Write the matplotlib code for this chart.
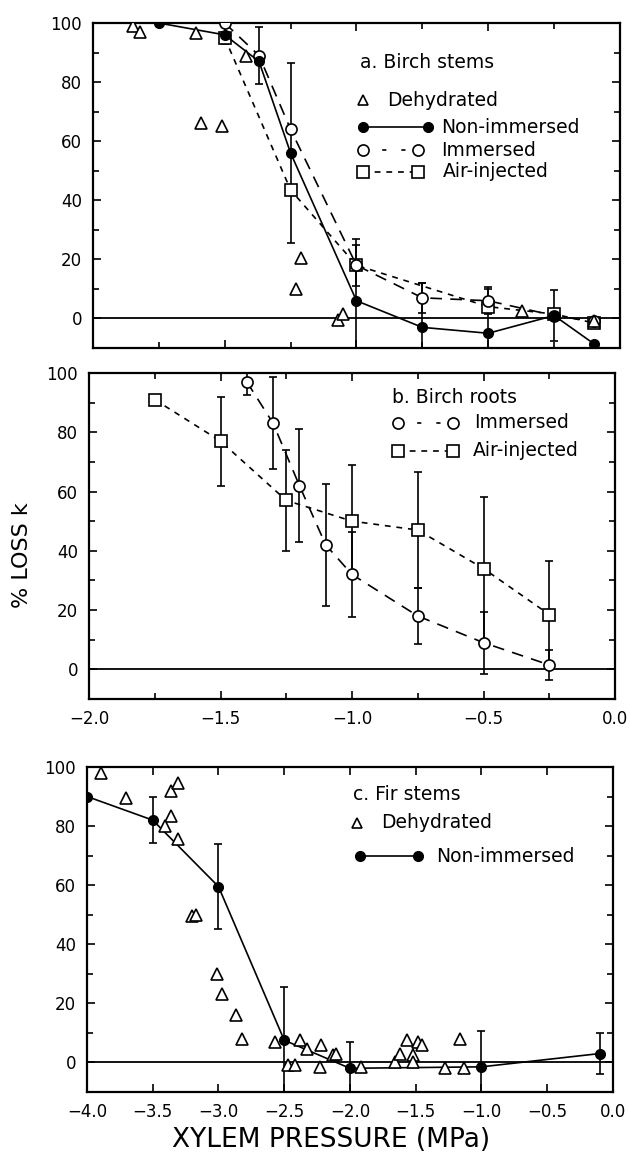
import numpy as np
import matplotlib
matplotlib.use('Agg')
import matplotlib.pyplot as plt

# a. Birch stems
a_dehyd_x = [-1.85, -1.82, -1.61, -1.59, -1.51, -1.42, -1.23, -1.21, -1.07, -1.05, -0.37, -0.10]
a_dehyd_y = [99, 97, 96.5, 66, 65, 89, 10, 20.5, -0.5, 1.5, 2.5, -1]

a_non_x = [-1.75, -1.5, -1.37, -1.25, -1.0, -0.75, -0.5, -0.25, -0.10]
a_non_y = [100, 96, 87, 56, 6, -3, -5, 1, -8.5]
a_non_err = [0, 1, 0, 30.5, 21, 15, 15, 8.5, 0]

a_imm_x = [-1.5, -1.37, -1.25, -1.0, -0.75, -0.5, -0.25, -0.10]
a_imm_y = [100, 89, 64, 18, 7, 6, 1, -1]
a_imm_err = [0, 9.5, 0, 0, 5, 4.5, 0, 0]

a_air_x = [-1.5, -1.25, -1.0, -0.5, -0.25, -0.10]
a_air_y = [95, 43.5, 18, 4, 1.5, -1.5]
a_air_err = [2, 0, 7, 0, 0, 0]

# b. Birch roots
b_imm_x = [-1.4, -1.3, -1.2, -1.1, -1.0, -0.75, -0.5, -0.25]
b_imm_y = [97, 83, 62, 42, 32, 18, 9, 1.5]
b_imm_err = [4.5, 15.5, 19, 20.5, 14.5, 9.5, 10.5, 5]

b_air_x = [-1.75, -1.5, -1.25, -1.0, -0.75, -0.5, -0.25]
b_air_y = [91, 77, 57, 50, 47, 34, 18.5]
b_air_err = [0, 15, 17, 19, 19.5, 24, 18]

# c. Fir stems
c_dehyd_x = [-3.89, -3.70, -3.36, -3.31, -3.36, -3.41, -3.31, -3.20, -3.17, -3.01,
             -2.97, -2.87, -2.82, -2.57, -2.47, -2.42, -2.38, -2.33, -2.22, -2.23,
             -2.13, -2.11, -1.92, -1.66, -1.62, -1.57, -1.52, -1.48, -1.45, -1.52,
             -1.28, -1.16, -1.13]
c_dehyd_y = [98, 89.5, 92, 94.5, 83.5, 80, 75.5, 49.5, 50, 30,
             23, 16, 8, 7, -1, -1, 7.5, 4.5, 6, -1.5,
             2.5, 3, -1.5, 0, 3, 7.5, 2.5, 7, 6, 0,
             -2, 8, -2]

c_non_x = [-4.0, -3.5, -3.0, -2.5, -2.0, -1.0, -0.10]
c_non_y = [90, 82, 59.5, 7.5, -2, -1.5, 3]
c_non_err = [0, 7.7, 14.3, 18, 9, 12, 7]

FS = 12
LFS = 13.5
LONG_DASH = (0, (7, 5))
SHORT_DASH = (0, (3.5, 3.5))

fill_mk = dict(marker='o', ms=7, mfc='black', mec='black')
circ_mk = dict(marker='o', ms=8, mfc='white', mec='black', mew=1.2)
sq_mk = dict(marker='s', ms=9, mfc='white', mec='black', mew=1.2)
tri_mk = dict(marker='^', ms=8, mfc='white', mec='black', mew=1.2, ls='none')


def errline(ax, x, y, err, ls, mk):
    ax.errorbar(x, y, yerr=err, color='black', ls=ls, lw=1.2,
                elinewidth=1.2, capsize=3, capthick=1.2, zorder=3, **mk)


def style_axes(ax, xlim, xticks, xminor, labels):
    ax.set_xlim(*xlim)
    ax.set_ylim(-10, 100)
    ax.set_xticks(xticks)
    if xminor is not None:
        ax.set_xticks(xminor, minor=True)
    ax.set_yticks(np.arange(0, 101, 20))
    ax.set_yticks(np.arange(-10, 101, 10), minor=True)
    ax.tick_params(which='both', direction='in', top=True, right=True,
                   labelsize=FS, width=1.2)
    ax.tick_params(which='major', length=6, pad=8)
    ax.tick_params(which='minor', length=4)
    if labels:
        ax.set_xticklabels([('%.1f' % t).replace('-', '\u2212') for t in xticks])
    else:
        ax.set_xticklabels([])
    for s in ax.spines.values():
        s.set_linewidth(1.6)
    ax.axhline(0, color='black', lw=1.3, zorder=1)


def leg_row(ax, y, x1, x2, text_x, text, mk, ls):
    tr = ax.transAxes
    if x2 is not None:
        ax.plot([x1, x2], [y, y], transform=tr, color='black', lw=1.2,
                ls=ls, clip_on=False)
        ax.plot([x2], [y], transform=tr, color='black', ls='none', **mk)
    ax.plot([x1], [y], transform=tr, color='black', ls='none', **mk)
    ax.text(text_x, y, text, transform=tr, fontsize=LFS, va='center', ha='left')


fig = plt.figure(figsize=(6.3, 11.64), dpi=100)
ax_a = fig.add_axes([0.1476, 0.701, 0.8365, 0.2792])
ax_b = fig.add_axes([0.1413, 0.3995, 0.8349, 0.2801])
ax_c = fig.add_axes([0.1381, 0.0619, 0.8349, 0.2792])

# panel a
ax_a.plot(a_dehyd_x, a_dehyd_y, color='black', zorder=4, **tri_mk)
errline(ax_a, a_air_x, a_air_y, a_air_err, SHORT_DASH, sq_mk)
errline(ax_a, a_imm_x, a_imm_y, a_imm_err, LONG_DASH, circ_mk)
errline(ax_a, a_non_x, a_non_y, a_non_err, '-', fill_mk)
style_axes(ax_a, (-2.0, 0.0), np.arange(-2.0, 0.01, 0.5), np.arange(-1.75, 0, 0.5), False)
ax_a.text(0.507, 0.88, 'a. Birch stems', transform=ax_a.transAxes, fontsize=LFS, va='center')
ax_a.plot([0.512], [0.763], transform=ax_a.transAxes, color='black', **dict(tri_mk, ms=7))
ax_a.text(0.558, 0.763, 'Dehydrated', transform=ax_a.transAxes, fontsize=LFS, va='center')
leg_row(ax_a, 0.68, 0.512, 0.636, 0.66, 'Non-immersed', fill_mk, '-')
leg_row(ax_a, 0.609, 0.512, 0.617, 0.66, 'Immersed', circ_mk, (0, (2.5, 9)))
leg_row(ax_a, 0.542, 0.512, 0.617, 0.664, 'Air-injected', sq_mk, SHORT_DASH)

# panel b
errline(ax_b, b_air_x, b_air_y, b_air_err, SHORT_DASH, sq_mk)
errline(ax_b, b_imm_x, b_imm_y, b_imm_err, LONG_DASH, circ_mk)
style_axes(ax_b, (-2.0, 0.0), np.arange(-2.0, 0.01, 0.5), np.arange(-1.75, 0, 0.5), True)
ax_b.text(0.576, 0.926, 'b. Birch roots', transform=ax_b.transAxes, fontsize=LFS, va='center')
leg_row(ax_b, 0.847, 0.587, 0.692, 0.732, 'Immersed', circ_mk, (0, (2.5, 9)))
leg_row(ax_b, 0.761, 0.587, 0.692, 0.730, 'Air-injected', sq_mk, SHORT_DASH)

# panel c
ax_c.plot(c_dehyd_x, c_dehyd_y, color='black', zorder=4, **tri_mk)
errline(ax_c, c_non_x, c_non_y, c_non_err, '-', fill_mk)
style_axes(ax_c, (-4.0, 0.0), np.arange(-4.0, 0.01, 0.5), None, True)
ax_c.text(0.506, 0.914, 'c. Fir stems', transform=ax_c.transAxes, fontsize=LFS, va='center')
ax_c.plot([0.513], [0.828], transform=ax_c.transAxes, color='black', **dict(tri_mk, ms=7))
ax_c.text(0.559, 0.828, 'Dehydrated', transform=ax_c.transAxes, fontsize=LFS, va='center')
leg_row(ax_c, 0.726, 0.519, 0.629, 0.663, 'Non-immersed', fill_mk, '-')

fig.text(0.035, 0.523, '% LOSS k', rotation=90, fontsize=16, ha='center', va='center')
fig.text(0.525, 0.021, 'XYLEM PRESSURE (MPa)', fontsize=19, ha='center', va='center')

fig.savefig('out.png', dpi=100)
